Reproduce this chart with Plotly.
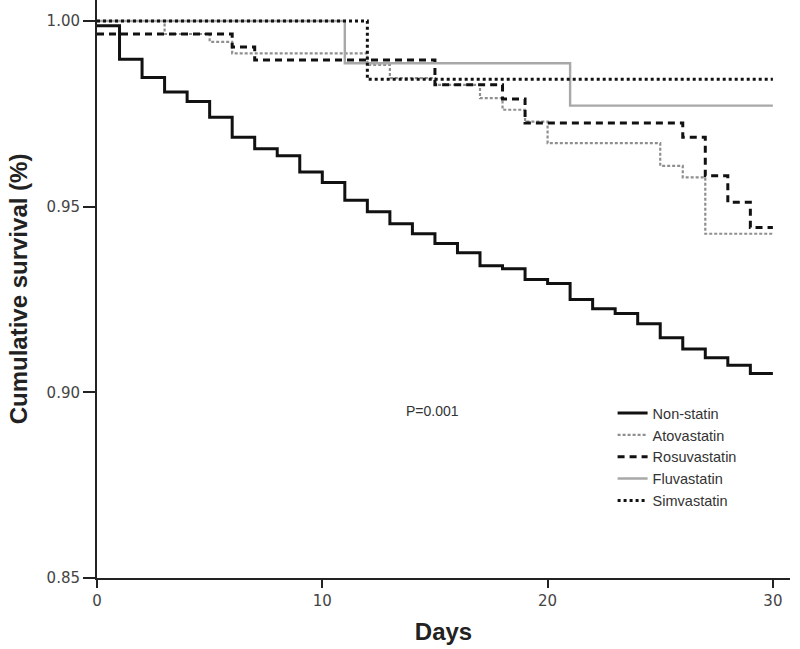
import plotly.graph_objects as go

# ---- data ----
days_nonstatin = [0, 1, 2, 3, 4, 5, 6, 7, 8, 9, 10, 11, 12, 13, 14, 15, 16, 17, 18, 19,
                  20, 21, 22, 23, 24, 25, 26, 27, 28, 29, 30]
surv_nonstatin = [0.9987, 0.9897, 0.9848, 0.9809, 0.9783, 0.9741, 0.9687, 0.9656, 0.9637,
                  0.9593, 0.9565, 0.9517, 0.9486, 0.9454, 0.9427, 0.9401, 0.9376, 0.9341,
                  0.9333, 0.9304, 0.9293, 0.9250, 0.9225, 0.9212, 0.9185, 0.9147, 0.9117,
                  0.9093, 0.9073, 0.9051, 0.9051]

days_atorva = [0, 3, 5, 6, 12, 13, 15, 17, 18, 19, 20, 25, 26, 27, 30]
surv_atorva = [1.0, 0.9965, 0.9944, 0.9913, 0.9882, 0.9846, 0.9828, 0.9792, 0.9761,
               0.9729, 0.9671, 0.9610, 0.9579, 0.9427, 0.9427]

days_rosuva = [0, 6, 7, 15, 18, 19, 26, 27, 28, 29, 30]
surv_rosuva = [0.9965, 0.9930, 0.9895, 0.9828, 0.9790, 0.9725, 0.9687, 0.9583, 0.9512,
               0.9444, 0.9444]

days_fluva = [0, 11, 21, 30]
surv_fluva = [1.0, 0.9886, 0.9772, 0.9772]

days_simva = [0, 12, 30]
surv_simva = [1.0, 0.9843, 0.9843]

series_names = ["Non-statin", "Atovastatin", "Rosuvastatin", "Fluvastatin", "Simvastatin"]
y_ticks = [0.85, 0.90, 0.95, 1.00]
x_ticks = [0, 10, 20, 30]
p_text = "P=0.001"

# ---- styles ----
styles = [
    dict(color="#111111", width=3, dash="solid"),
    dict(color="#8f8f8f", width=2.2, dash="3px,2px"),
    dict(color="#111111", width=3, dash="7px,5px"),
    dict(color="#a8a8a8", width=2.4, dash="solid"),
    dict(color="#111111", width=3, dash="3px,3px"),
]
data = [
    (days_nonstatin, surv_nonstatin),
    (days_atorva, surv_atorva),
    (days_rosuva, surv_rosuva),
    (days_fluva, surv_fluva),
    (days_simva, surv_simva),
]

fig = go.Figure()
for name, (t, s), st in zip(series_names, data, styles):
    fig.add_trace(go.Scatter(
        x=t, y=s, name=name, mode="lines", line_shape="hv",
        line=st, showlegend=True,
    ))

fig.add_annotation(
    x=14.87, y=0.8949, xref="x", yref="y", text=p_text, showarrow=False,
    font=dict(family="Liberation Sans, Arial, sans-serif", size=14, color="#333333"),
)

fig.update_layout(
    width=800, height=649,
    margin=dict(l=97, r=10, t=0, b=71, autoexpand=False),
    paper_bgcolor="white", plot_bgcolor="white",
    showlegend=True,
    legend=dict(
        x=0.744, y=0.313, xanchor="left", yanchor="top",
        bgcolor="rgba(0,0,0,0)", borderwidth=0,
        font=dict(family="Liberation Sans, Arial, sans-serif", size=14.5, color="#333333"),
        tracegroupgap=0,
    ),
    xaxis=dict(
        range=[0, 30.76], tickvals=x_ticks, ticktext=[str(v) for v in x_ticks],
        showgrid=False, zeroline=False, automargin=False,
        showline=True, linecolor="#222222", linewidth=2,
        ticks="outside", ticklen=8, tickwidth=2, tickcolor="#222222",
        tickfont=dict(family="DejaVu Sans, sans-serif", size=15, color="#444444"),
        title=dict(text="<b>Days</b>", standoff=14,
                   font=dict(family="Liberation Sans, Arial, sans-serif", size=24, color="#222222")),
    ),
    yaxis=dict(
        range=[0.85, 1.00565], tickvals=y_ticks, ticktext=["%.2f" % v for v in y_ticks],
        showgrid=False, zeroline=False, automargin=False,
        showline=True, linecolor="#222222", linewidth=2,
        ticks="outside", ticklen=12, tickwidth=2, tickcolor="#222222",
        tickfont=dict(family="DejaVu Sans, sans-serif", size=15, color="#444444"),
        title=dict(text="<b>Cumulative survival (%)</b>", standoff=12,
                   font=dict(family="Liberation Sans, Arial, sans-serif", size=24, color="#222222")),
    ),
)

fig.write_html("out.html", config={"displayModeBar": False},
               post_script="document.body.style.margin='0';")
